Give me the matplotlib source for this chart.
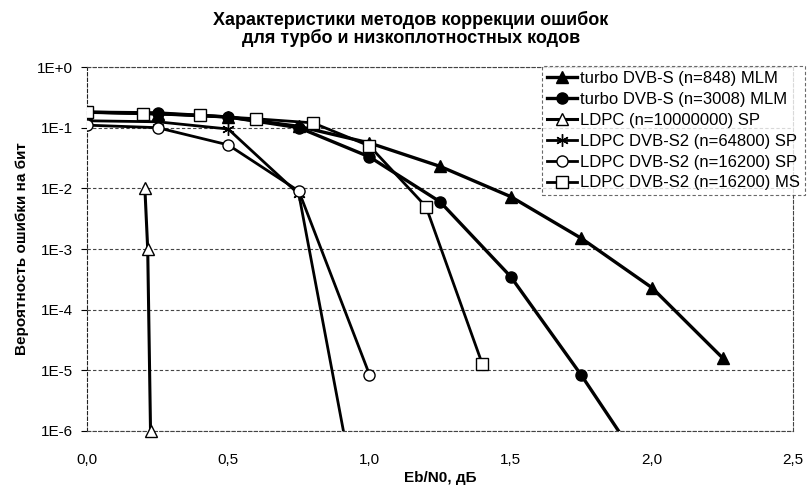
import matplotlib
matplotlib.use("Agg")
import matplotlib.pyplot as plt

plt.rcParams['font.family'] = ['Liberation Sans', 'DejaVu Sans']

title = "Характеристики методов коррекции ошибок\nдля турбо и низкоплотностных кодов"
xlabel = "Eb/N0, дБ"
ylabel = "Вероятность ошибки на бит"

x_ticks = [0.0, 0.5, 1.0, 1.5, 2.0, 2.5]
x_tick_labels = ["0,0", "0,5", "1,0", "1,5", "2,0", "2,5"]
y_ticks = [1e0, 1e-1, 1e-2, 1e-3, 1e-4, 1e-5, 1e-6]
y_tick_labels = ["1E+0", "1E-1", "1E-2", "1E-3", "1E-4", "1E-5", "1E-6"]

labels = [
    "turbo DVB-S (n=848) MLM",
    "turbo DVB-S (n=3008) MLM",
    "LDPC (n=10000000) SP",
    "LDPC DVB-S2 (n=64800) SP",
    "LDPC DVB-S2 (n=16200) SP",
    "LDPC DVB-S2 (n=16200) MS",
]

turbo848_x = [0.0, 0.25, 0.5, 0.75, 1.0, 1.25, 1.5, 1.75, 2.0, 2.25]
turbo848_y = [0.18, 0.17, 0.15, 0.105, 0.056, 0.023, 0.0073, 0.0015, 2.3e-4, 1.6e-5]

turbo3008_x = [0.0, 0.25, 0.5, 0.75, 1.0, 1.25, 1.5, 1.75, 2.0]
turbo3008_y = [0.18, 0.175, 0.15, 0.1, 0.033, 0.006, 3.5e-4, 8.3e-6, 1.5e-7]

ldpc1e7_x = [0.205, 0.215, 0.225]
ldpc1e7_y = [1e-2, 1e-3, 1e-6]

ldpc64800_x = [0.0, 0.25, 0.5, 0.75, 0.92]
ldpc64800_y = [0.13, 0.125, 0.095, 0.008, 5e-7]

ldpc16200sp_x = [0.0, 0.25, 0.5, 0.75, 1.0]
ldpc16200sp_y = [0.11, 0.10, 0.052, 0.009, 8.5e-6]

ldpc16200ms_x = [0.0, 0.2, 0.4, 0.6, 0.8, 1.0, 1.2, 1.4]
ldpc16200ms_y = [0.18, 0.17, 0.16, 0.14, 0.12, 0.05, 0.005, 1.25e-5]

fig = plt.figure(figsize=(8.09, 4.87), dpi=100)
ax = fig.add_axes([0.1075, 0.115, 0.873, 0.7474])

ax.set_yscale('log')
ax.set_xlim(0, 2.5)
ax.set_ylim(1e-6, 1e0)

# gridlines
for yv in y_ticks:
    ax.axhline(yv, color='#444444', lw=0.8, ls=(0, (3, 2)), zorder=0)

asterisk = (6, 2, 0)
ax.plot(turbo848_x, turbo848_y, color='black', lw=2.4, marker='^', ms=8,
        mfc='black', mec='black', label=labels[0], zorder=3)
ax.plot(turbo3008_x, turbo3008_y, color='black', lw=2.4, marker='o', ms=8,
        mfc='black', mec='black', label=labels[1], zorder=3)
ax.plot(ldpc1e7_x, ldpc1e7_y, color='black', lw=2.2, marker='^', ms=8,
        mfc='white', mec='black', mew=1.0, label=labels[2], zorder=4,
        clip_on=False)
ax.plot(ldpc64800_x, ldpc64800_y, color='black', lw=2.0, marker=asterisk, ms=9,
        mfc='black', mec='black', mew=1.0, label=labels[3], zorder=4)
ax.plot(ldpc16200sp_x, ldpc16200sp_y, color='black', lw=2.0, marker='o', ms=8,
        mfc='white', mec='black', mew=1.0, label=labels[4], zorder=4)
ax.plot(ldpc16200ms_x, ldpc16200ms_y, color='black', lw=2.0, marker='s', ms=8,
        mfc='white', mec='black', mew=1.0, label=labels[5], zorder=4)

ax.set_xticks(x_ticks)
ax.set_xticklabels(x_tick_labels, fontsize=11)
ax.set_yticks(y_ticks)
ax.set_yticklabels(y_tick_labels, fontsize=11)
ax.minorticks_off()
ax.tick_params(axis='x', length=0, pad=16)
ax.tick_params(axis='y', length=4, width=0.8, direction='out', pad=6)

for side in ['left', 'right', 'top', 'bottom']:
    ax.spines[side].set_linestyle((0, (3, 2)))
    ax.spines[side].set_linewidth(0.8)
    ax.spines[side].set_color('#444444')
ax.spines['left'].set_color('#222222')

ax.set_xlabel(xlabel, fontsize=11, fontweight='bold', labelpad=3)
ax.set_ylabel(ylabel, fontsize=11, fontweight='bold', labelpad=6)
fig.suptitle(title, fontsize=13, fontweight='bold', x=0.508, y=0.978,
             va='top', linespacing=1.0)

leg = ax.legend(loc='upper right', bbox_to_anchor=(0.995, 0.864),
                bbox_transform=fig.transFigure, fontsize=12, frameon=True,
                handlelength=1.8, handletextpad=0.2, labelspacing=0.35,
                borderpad=0.3, borderaxespad=0, fancybox=False)
leg.get_frame().set_edgecolor('#444444')
leg.get_frame().set_linestyle((0, (3, 2)))
leg.get_frame().set_linewidth(0.8)
leg.set_zorder(10)

fig.savefig('out.png', dpi=100)
